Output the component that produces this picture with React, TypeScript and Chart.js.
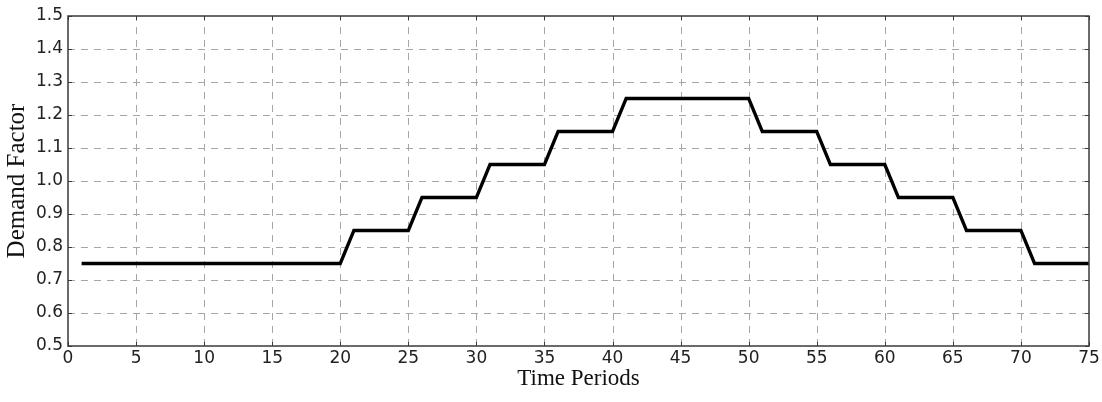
import React, { useEffect, useRef } from "react";
import { Chart, registerables } from "chart.js";

Chart.register(...registerables);

// Demand factor per time period (periods 1..75)
const demandFactor: number[] = [
  0.75, 0.75, 0.75, 0.75, 0.75, 0.75, 0.75, 0.75, 0.75, 0.75,
  0.75, 0.75, 0.75, 0.75, 0.75, 0.75, 0.75, 0.75, 0.75, 0.75,
  0.85, 0.85, 0.85, 0.85, 0.85,
  0.95, 0.95, 0.95, 0.95, 0.95,
  1.05, 1.05, 1.05, 1.05, 1.05,
  1.15, 1.15, 1.15, 1.15, 1.15,
  1.25, 1.25, 1.25, 1.25, 1.25, 1.25, 1.25, 1.25, 1.25, 1.25,
  1.15, 1.15, 1.15, 1.15, 1.15,
  1.05, 1.05, 1.05, 1.05, 1.05,
  0.95, 0.95, 0.95, 0.95, 0.95,
  0.85, 0.85, 0.85, 0.85, 0.85,
  0.75, 0.75, 0.75, 0.75, 0.75,
];

const xRange = { min: 0, max: 75, step: 5 };
const yRange = { min: 0.5, max: 1.5, step: 0.1 };

const xTitle = "Time Periods";
const yTitle = "Demand Factor";

// Dashed grid lines behind the data
const gridPlugin = {
  id: "dashedGrid",
  beforeDatasetsDraw(chart: any) {
    const { ctx, chartArea: a, scales } = chart;
    ctx.save();
    ctx.strokeStyle = "#a6a6a6";
    ctx.lineWidth = 1;
    ctx.setLineDash([7, 6]);
    scales.x.ticks.forEach((t: any) => {
      const px = Math.round(scales.x.getPixelForValue(t.value)) + 0.5;
      if (px <= a.left + 1 || px >= a.right - 1) return;
      ctx.beginPath();
      ctx.moveTo(px, a.bottom);
      ctx.lineTo(px, a.top);
      ctx.stroke();
    });
    scales.y.ticks.forEach((t: any) => {
      const py = Math.round(scales.y.getPixelForValue(t.value)) + 0.5;
      if (py <= a.top + 1 || py >= a.bottom - 1) return;
      ctx.beginPath();
      ctx.moveTo(a.left, py);
      ctx.lineTo(a.right, py);
      ctx.stroke();
    });
    ctx.restore();
  },
};

// Frame around the plot area with small inward ticks on all four sides
const framePlugin = {
  id: "frame",
  afterDatasetsDraw(chart: any) {
    const { ctx, chartArea: a, scales } = chart;
    ctx.save();
    ctx.strokeStyle = "#3a3a3a";
    ctx.lineWidth = 1;
    const tl = 4;
    ctx.beginPath();
    scales.x.ticks.forEach((t: any) => {
      const px = Math.round(scales.x.getPixelForValue(t.value)) + 0.5;
      ctx.moveTo(px, a.bottom);
      ctx.lineTo(px, a.bottom - tl);
      ctx.moveTo(px, a.top);
      ctx.lineTo(px, a.top + tl);
    });
    scales.y.ticks.forEach((t: any) => {
      const py = Math.round(scales.y.getPixelForValue(t.value)) + 0.5;
      ctx.moveTo(a.left, py);
      ctx.lineTo(a.left + tl, py);
      ctx.moveTo(a.right, py);
      ctx.lineTo(a.right - tl, py);
    });
    ctx.stroke();
    ctx.lineWidth = 1.5;
    ctx.strokeRect(a.left, a.top, a.right - a.left, a.bottom - a.top);
    ctx.restore();
  },
};

export default function App() {
  const ref = useRef<HTMLCanvasElement>(null);

  useEffect(() => {
    document.body.style.margin = "0";
    const canvas = ref.current;
    if (!canvas) return;
    const chart = new Chart(canvas, {
      type: "line",
      data: {
        datasets: [
          {
            data: demandFactor.map((v, i) => ({ x: i + 1, y: v })),
            borderColor: "#000",
            borderWidth: 3.3,
            pointRadius: 0,
            fill: false,
            tension: 0,
          },
        ],
      },
      options: {
        animation: false,
        responsive: false,
        layout: { padding: { left: 0, top: 16, right: 13, bottom: 0 } },
        plugins: { legend: { display: false }, tooltip: { enabled: false } },
        scales: {
          x: {
            type: "linear",
            min: xRange.min,
            max: xRange.max,
            afterFit(scale: any) {
              scale.height = 56;
            },
            ticks: {
              stepSize: xRange.step,
              color: "#222",
              padding: 2,
              maxRotation: 0,
              font: { family: "DejaVu Sans", size: 17 },
            },
            grid: { display: false, drawTicks: false, tickLength: 0 },
            border: { display: false },
            title: {
              display: true,
              text: xTitle,
              color: "#111",
              font: { family: "Liberation Serif", size: 23 },
              padding: { top: 0, bottom: 9 },
            },
          },
          y: {
            min: yRange.min,
            max: yRange.max,
            afterFit(scale: any) {
              scale.width = 68;
            },
            ticks: {
              stepSize: yRange.step,
              color: "#222",
              padding: 5,
              font: { family: "DejaVu Sans", size: 17 },
              callback: (v: any) => Number(v).toFixed(1),
            },
            grid: { display: false, drawTicks: false, tickLength: 0 },
            border: { display: false },
            title: {
              display: true,
              text: yTitle,
              color: "#111",
              font: { family: "Liberation Serif", size: 25 },
              padding: { top: 2, bottom: 0 },
            },
          },
        },
      },
      plugins: [gridPlugin, framePlugin],
    });
    return () => chart.destroy();
  }, []);

  return (
    <div style={{ position: "fixed", left: 0, top: 0, width: 1102, height: 402, background: "#fff" }}>
      <canvas ref={ref} width={1102} height={402} />
    </div>
  );
}
